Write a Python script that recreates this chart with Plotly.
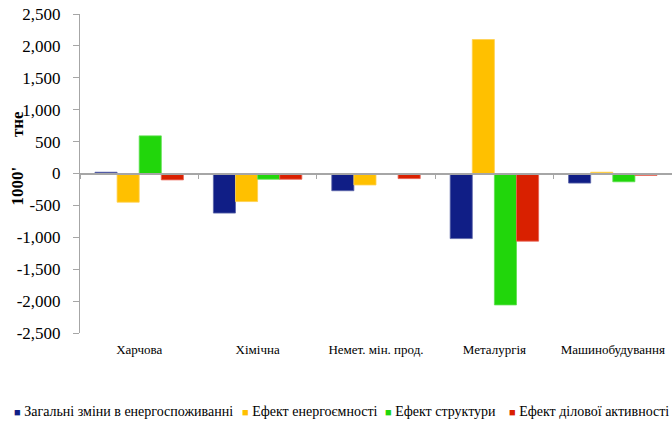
import plotly.graph_objects as go

categories = ["Харчова", "Хімічна", "Немет. мін. прод.", "Металургія", "Машинобудування"]
series_names = ["Загальні зміни в енергоспоживанні", "Ефект енергоємності",
                "Ефект структури", "Ефект ділової активності"]
total_change = [20, -620, -270, -1020, -150]
intensity_effect = [-450, -440, -180, 2100, 20]
structure_effect = [590, -90, 0, -2060, -130]
activity_effect = [-100, -90, -80, -1060, -30]
y_tick_vals = [2500, 2000, 1500, 1000, 500, 0, -500, -1000, -1500, -2000, -2500]
y_tick_text = ["2,500", "2,000", "1,500", "1,000", "500", "0", "-500", "-1,000",
               "-1,500", "-2,000", "-2,500"]
nb = "\u00a0"
y_title = "1000'" + nb * 7 + "тне"

colors = ["#101E86", "#FFC000", "#21D60B", "#D92000"]
edges = ["#5A64A8", "#FFD050", "#60E050", "#E86050"]
values = [total_change, intensity_effect, structure_effect, activity_effect]

# legend entry positions (paper x, left edge of square)
legend_x = [-0.1148, 0.2703, 0.5124, 0.7218]
legend_y = -0.2476

font_family = "Liberation Serif, Times New Roman, serif"

fig = go.Figure()
for name, vals, c, e in zip(series_names, values, colors, edges):
    fig.add_trace(go.Bar(x=categories, y=vals, name=name, marker_color=c,
                         marker_line=dict(color=e, width=0.8)))

annotations = []
for name, c, lx in zip(series_names, colors, legend_x):
    annotations.append(dict(
        text=f'<span style="color:{c};font-size:11px">■</span> {name}',
        xref="paper", yref="paper", x=lx, y=legend_y,
        xanchor="left", yanchor="middle", showarrow=False,
        font=dict(size=14, family=font_family, color="black")))

# y-axis title
annotations.append(dict(
    text=y_title, textangle=-90, xref="paper", yref="paper",
    x=-0.1064, y=0.547, xanchor="center", yanchor="middle", showarrow=False,
    font=dict(size=17, family=font_family, weight="bold", color="black")))

fig.update_layout(
    width=672, height=421,
    margin=dict(l=80, r=0, t=14, b=88),
    paper_bgcolor="white", plot_bgcolor="white",
    barmode="group", bargap=0.253, bargroupgap=0,
    font=dict(family=font_family, color="black"),
    showlegend=False,
    annotations=annotations,
    xaxis=dict(anchor="free", position=0.5, showline=True, linecolor="#A6A6A6",
               linewidth=1.5, ticks="outside", tickson="boundaries", ticklen=5,
               tickcolor="#A6A6A6", showgrid=False, zeroline=False,
               tickfont=dict(size=13, family=font_family),
               ticklabelstandoff=164, automargin=False),
    yaxis=dict(range=[-2500, 2500], tickvals=y_tick_vals, ticktext=y_tick_text,
               showline=True, linecolor="#A6A6A6", linewidth=1, ticks="outside",
               ticklen=6, tickcolor="#A6A6A6", showgrid=False, zeroline=False,
               tickfont=dict(size=17, family=font_family), ticklabelstandoff=9,
               automargin=False),
)
fig.write_html("out.html", config={"displayModeBar": False},
               post_script="document.body.style.margin='0';document.body.style.overflow='hidden';")
